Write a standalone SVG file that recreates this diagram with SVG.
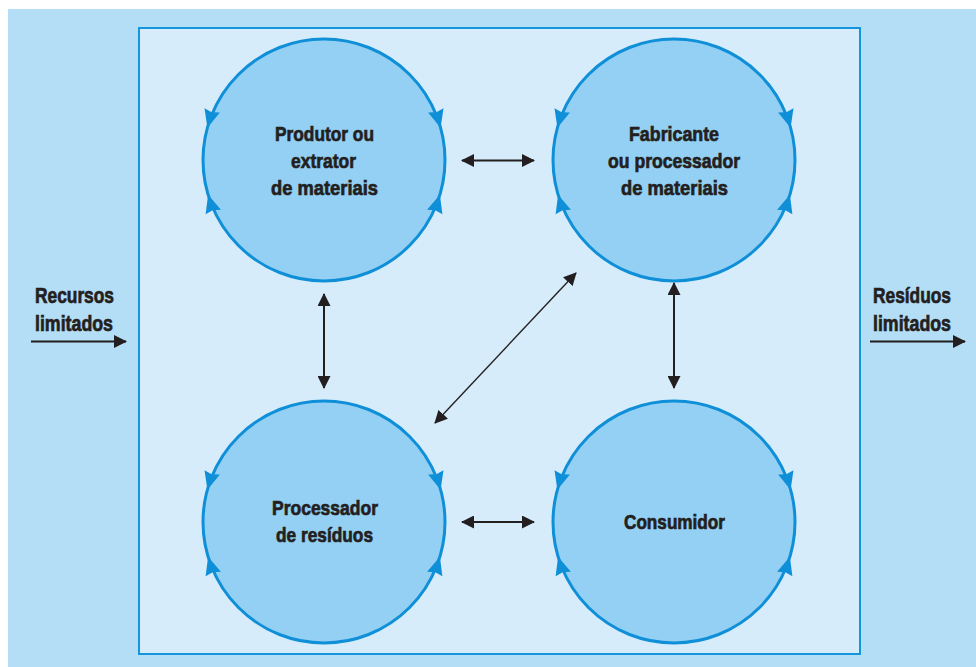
<svg xmlns="http://www.w3.org/2000/svg" width="976" height="667" viewBox="0 0 976 667">
<style>
.bg{fill:#b4ddf6}
.box{fill:#d7ecfa;stroke:#1496dc;stroke-width:2}
.c{fill:#93d0f3;stroke:#0f8fd8;stroke-width:3}
.ch{fill:#0f8fd8}
.t{font-family:"Liberation Sans",Arial,sans-serif;font-weight:bold;font-size:21px;fill:#231f20;stroke:#231f20;stroke-width:0.7;text-anchor:middle}
.tl{font-family:"Liberation Sans",Arial,sans-serif;font-weight:bold;font-size:22px;fill:#231f20;stroke:#231f20;stroke-width:0.7}
.a{stroke:#231f20;stroke-width:2;fill:none}
.ad{stroke:#231f20;stroke-width:1.4;fill:none}
</style>
<defs>
<marker id="ah" viewBox="0 0 13 13" refX="12" refY="6.5" markerWidth="13" markerHeight="13" markerUnits="userSpaceOnUse" orient="auto-start-reverse">
<path d="M0,0 L13,6.5 L0,13 Z" fill="#231f20"/>
</marker>
<path id="cah" d="M0,0 L-8,-18 L0,-16 L8,-18 Z"/>
</defs>
<rect class="bg" x="8" y="9" width="968" height="658"/>
<rect class="box" x="139" y="28" width="721" height="626"/>

<g id="n1">
<circle class="c" cx="324" cy="160" r="121"/>
<g class="ch">
<use href="#cah" transform="translate(207.4,127.7) rotate(15.5)"/>
<use href="#cah" transform="translate(208.1,194.8) rotate(163.3)"/>
<use href="#cah" transform="translate(440.6,127.7) rotate(-15.5)"/>
<use href="#cah" transform="translate(439.9,194.8) rotate(196.7)"/>
</g>
<text class="t" x="324.5" y="141" textLength="99" lengthAdjust="spacingAndGlyphs">Produtor ou</text>
<text class="t" x="323.5" y="168" textLength="65" lengthAdjust="spacingAndGlyphs">extrator</text>
<text class="t" x="324.5" y="195" textLength="107" lengthAdjust="spacingAndGlyphs">de materiais</text>
</g>

<g id="n2">
<circle class="c" cx="674" cy="160" r="121"/>
<g class="ch">
<use href="#cah" transform="translate(557.4,127.7) rotate(15.5)"/>
<use href="#cah" transform="translate(558.1,194.8) rotate(163.3)"/>
<use href="#cah" transform="translate(790.6,127.7) rotate(-15.5)"/>
<use href="#cah" transform="translate(789.9,194.8) rotate(196.7)"/>
</g>
<text class="t" x="674" y="141" textLength="90" lengthAdjust="spacingAndGlyphs">Fabricante</text>
<text class="t" x="674" y="168" textLength="132" lengthAdjust="spacingAndGlyphs">ou processador</text>
<text class="t" x="674.5" y="195" textLength="107" lengthAdjust="spacingAndGlyphs">de materiais</text>
</g>

<g id="n3">
<circle class="c" cx="324" cy="522" r="121"/>
<g class="ch">
<use href="#cah" transform="translate(207.4,489.7) rotate(15.5)"/>
<use href="#cah" transform="translate(208.1,556.8) rotate(163.3)"/>
<use href="#cah" transform="translate(440.6,489.7) rotate(-15.5)"/>
<use href="#cah" transform="translate(439.9,556.8) rotate(196.7)"/>
</g>
<text class="t" x="325" y="515" textLength="106" lengthAdjust="spacingAndGlyphs">Processador</text>
<text class="t" x="324.5" y="542" textLength="97" lengthAdjust="spacingAndGlyphs">de resíduos</text>
</g>

<g id="n4">
<circle class="c" cx="674" cy="522" r="121"/>
<g class="ch">
<use href="#cah" transform="translate(557.4,489.7) rotate(15.5)"/>
<use href="#cah" transform="translate(558.1,556.8) rotate(163.3)"/>
<use href="#cah" transform="translate(790.6,489.7) rotate(-15.5)"/>
<use href="#cah" transform="translate(789.9,556.8) rotate(196.7)"/>
</g>
<text class="t" x="674.5" y="529" textLength="101" lengthAdjust="spacingAndGlyphs">Consumidor</text>
</g>

<g id="in">
<text class="tl" x="35" y="303" textLength="79" lengthAdjust="spacingAndGlyphs">Recursos</text>
<text class="tl" x="35" y="331" textLength="78" lengthAdjust="spacingAndGlyphs">limitados</text>
</g>
<g id="out">
<text class="tl" x="873" y="303" textLength="78" lengthAdjust="spacingAndGlyphs">Resíduos</text>
<text class="tl" x="873" y="331" textLength="78" lengthAdjust="spacingAndGlyphs">limitados</text>
</g>

<g id="connectors">
<line class="a" x1="462" y1="160.5" x2="534" y2="160.5" marker-start="url(#ah)" marker-end="url(#ah)"/>
<line class="a" x1="462" y1="522" x2="534" y2="522" marker-start="url(#ah)" marker-end="url(#ah)"/>
<line class="a" x1="324" y1="294" x2="324" y2="388" marker-start="url(#ah)" marker-end="url(#ah)"/>
<line class="a" x1="674" y1="283" x2="674" y2="388" marker-start="url(#ah)" marker-end="url(#ah)"/>
<line class="ad" x1="435" y1="423" x2="576" y2="273" marker-start="url(#ah)" marker-end="url(#ah)"/>
<line class="a" x1="31" y1="341.5" x2="126" y2="341.5" marker-end="url(#ah)"/>
<line class="a" x1="870" y1="341.5" x2="965" y2="341.5" marker-end="url(#ah)"/>
</g>
</svg>
